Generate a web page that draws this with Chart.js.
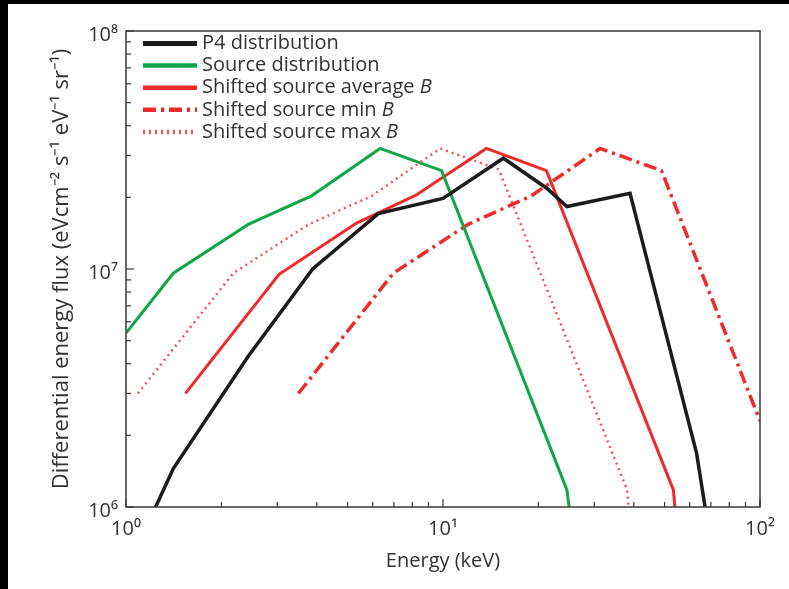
<!DOCTYPE html>
<html>
<head>
<meta charset="utf-8">
<title>Differential energy flux</title>
<script src="https://cdn.jsdelivr.net/npm/chart.js@4.4.1/dist/chart.umd.min.js"></script>
<style>
  html, body { margin: 0; padding: 0; background: #000; }
  #wrap { position: absolute; left: 8px; top: 4px; width: 781px; height: 585px; background: #fff; }
</style>
</head>
<body>
<div id="wrap"><canvas id="fluxChart"></canvas></div>
<script>
// energy (keV) / flux pairs for each curve
const p4Energy = [1.24, 1.41, 2.43, 3.88, 6.25, 10.0, 15.5, 21.3, 24.6, 38.9, 63.1, 67.1];
const p4Flux = [1.0e6, 1.45e6, 4.3e6, 1.0e7, 1.71e7, 1.98e7, 2.92e7, 2.18e7, 1.83e7, 2.08e7, 1.68e6, 1.0e6];

const sourceEnergy = [1.0, 1.41, 2.43, 3.85, 6.33, 9.9, 24.6, 25.0];
const sourceFlux = [5.38e6, 9.6e6, 1.54e7, 2.03e7, 3.21e7, 2.59e7, 1.18e6, 1.0e6];

const avgEnergy = [1.54, 3.04, 5.34, 8.26, 13.7, 21.2, 53.3, 53.9];
const avgFlux = [3.0e6, 9.5e6, 1.56e7, 2.05e7, 3.21e7, 2.59e7, 1.18e6, 1.0e6];

const minEnergy = [3.5, 6.97, 12.0, 19.0, 31.3, 48.9, 100];
const minFlux = [3.0e6, 9.6e6, 1.54e7, 2.03e7, 3.21e7, 2.59e7, 2.3e6];

const maxEnergy = [1.09, 2.18, 3.77, 5.97, 9.8, 15.0, 38.1, 38.5];
const maxFlux = [3.0e6, 9.6e6, 1.54e7, 2.03e7, 3.21e7, 2.62e7, 1.18e6, 1.0e6];

const xMajor = [1, 10, 100];
const xMinor = [2, 3, 4, 5, 6, 7, 8, 9, 20, 30, 40, 50, 60, 70, 80, 90];
const yMajor = [1e6, 1e7, 1e8];
const yMinor = [2e6, 3e6, 4e6, 5e6, 6e6, 7e6, 8e6, 9e6, 2e7, 3e7, 4e7, 5e7, 6e7, 7e7, 8e7, 9e7];

const legendLabels = [
  ['P4 distribution', ''],
  ['Source distribution', ''],
  ['Shifted source average ', 'B'],
  ['Shifted source min ', 'B'],
  ['Shifted source max ', 'B']
];

const BLACK = '#1c1c1c';
const GREEN = '#12a64a';
const RED = '#ee2a2a';
const FONT = '"Open Sans", sans-serif';
const TEXT = '#333';

const sup = { '0': '\u2070', '1': '\u00b9', '2': '\u00b2', '6': '\u2076', '7': '\u2077', '8': '\u2078' };
const powLabel = v => '10' + sup[String(Math.round(Math.log10(v)))];

const pts = (xs, ys) => xs.map((x, i) => ({ x: x, y: ys[i] }));

const datasets = [
  { label: 'P4 distribution', data: pts(p4Energy, p4Flux), borderColor: BLACK, borderWidth: 3.5 },
  { label: 'Source distribution', data: pts(sourceEnergy, sourceFlux), borderColor: GREEN, borderWidth: 3 },
  { label: 'Shifted source average B', data: pts(avgEnergy, avgFlux), borderColor: RED, borderWidth: 3 },
  { label: 'Shifted source min B', data: pts(minEnergy, minFlux), borderColor: RED, borderWidth: 3.5, borderDash: [13, 5, 3, 5] },
  { label: 'Shifted source max B', data: pts(maxEnergy, maxFlux), borderColor: 'rgba(238,42,42,0.8)', borderWidth: 2.5, borderDash: [2, 4] }
];
datasets.forEach(d => { d.pointRadius = 0; d.tension = 0; d.fill = false; d.borderCapStyle = 'butt'; d.borderJoinStyle = 'miter'; });

// frame, inward tick marks and legend
const decor = {
  id: 'decor',
  afterDraw(chart) {
    const ctx = chart.ctx;
    const a = chart.chartArea;
    const xs = chart.scales.x, ys = chart.scales.y;
    ctx.save();
    ctx.strokeStyle = '#3a3a3a';
    ctx.lineWidth = 1.5;
    ctx.strokeRect(a.left, a.top, a.right - a.left, a.bottom - a.top);

    ctx.lineWidth = 1.2;
    const tick = (x1, y1, x2, y2) => { ctx.beginPath(); ctx.moveTo(x1, y1); ctx.lineTo(x2, y2); ctx.stroke(); };
    xMajor.forEach(v => { const x = xs.getPixelForValue(v); tick(x, a.bottom, x, a.bottom - 8); });
    xMinor.forEach(v => { const x = xs.getPixelForValue(v); tick(x, a.bottom, x, a.bottom - 5); });
    yMajor.forEach(v => { const y = ys.getPixelForValue(v); tick(a.left, y, a.left + 8, y); });
    yMinor.forEach(v => { const y = ys.getPixelForValue(v); tick(a.left, y, a.left + 5, y); });

    // legend box
    const lx = a.left + 17, lw = 54, tx = a.left + 76;
    legendLabels.forEach((lab, i) => {
      const y = a.top + 12.5 + i * 22.1;
      const ds = chart.data.datasets[i];
      ctx.strokeStyle = ds.borderColor;
      ctx.lineWidth = i === 0 ? 5 : 4.5;
      ctx.setLineDash(ds.borderDash || []);
      tick(lx, y, lx + lw, y);
      ctx.setLineDash([]);
      ctx.fillStyle = TEXT;
      ctx.textBaseline = 'middle';
      ctx.font = '20px ' + FONT;
      ctx.fillText(lab[0], tx, y);
      if (lab[1]) {
        const w = ctx.measureText(lab[0]).width;
        ctx.font = 'italic 20px ' + FONT;
        ctx.fillText(lab[1], tx + w, y);
      }
    });
    ctx.restore();
  }
};

const ctx = document.getElementById('fluxChart').getContext('2d');
new Chart(ctx, {
  type: 'line',
  data: { datasets: datasets },
  options: {
    responsive: true,
    maintainAspectRatio: false,
    animation: false,
    layout: { padding: { left: 0, top: 27, right: 29, bottom: 0 } },
    plugins: { legend: { display: false }, tooltip: { enabled: false } },
    scales: {
      x: {
        type: 'logarithmic',
        min: 1,
        max: 100,
        afterBuildTicks: s => { s.ticks = xMajor.map(v => ({ value: v })); },
        afterFit: s => { s.height = 82; },
        grid: { display: false, drawTicks: false },
        border: { display: false },
        ticks: { callback: v => powLabel(v), padding: 10, maxRotation: 0, autoSkip: false, color: TEXT, font: { family: FONT, size: 20 } },
        title: { display: true, text: 'Energy (keV)', color: TEXT, padding: { top: 0, bottom: 16 }, font: { family: FONT, size: 20 } }
      },
      y: {
        type: 'logarithmic',
        min: 1e6,
        max: 1e8,
        afterBuildTicks: s => { s.ticks = yMajor.map(v => ({ value: v })); },
        afterFit: s => { s.width = 118; },
        grid: { display: false, drawTicks: false },
        border: { display: false },
        ticks: { callback: v => powLabel(v), padding: 8, labelOffset: 4, color: TEXT, font: { family: FONT, size: 20 } },
        title: {
          display: true,
          text: 'Differential energy flux (eVcm\u207b\u00b2 s\u207b\u00b9 eV\u207b\u00b9 sr\u207b\u00b9)',
          color: TEXT,
          padding: { top: 41, bottom: 0 },
          font: { family: FONT, size: 22 }
        }
      }
    }
  },
  plugins: [decor]
});
</script>
</body>
</html>
